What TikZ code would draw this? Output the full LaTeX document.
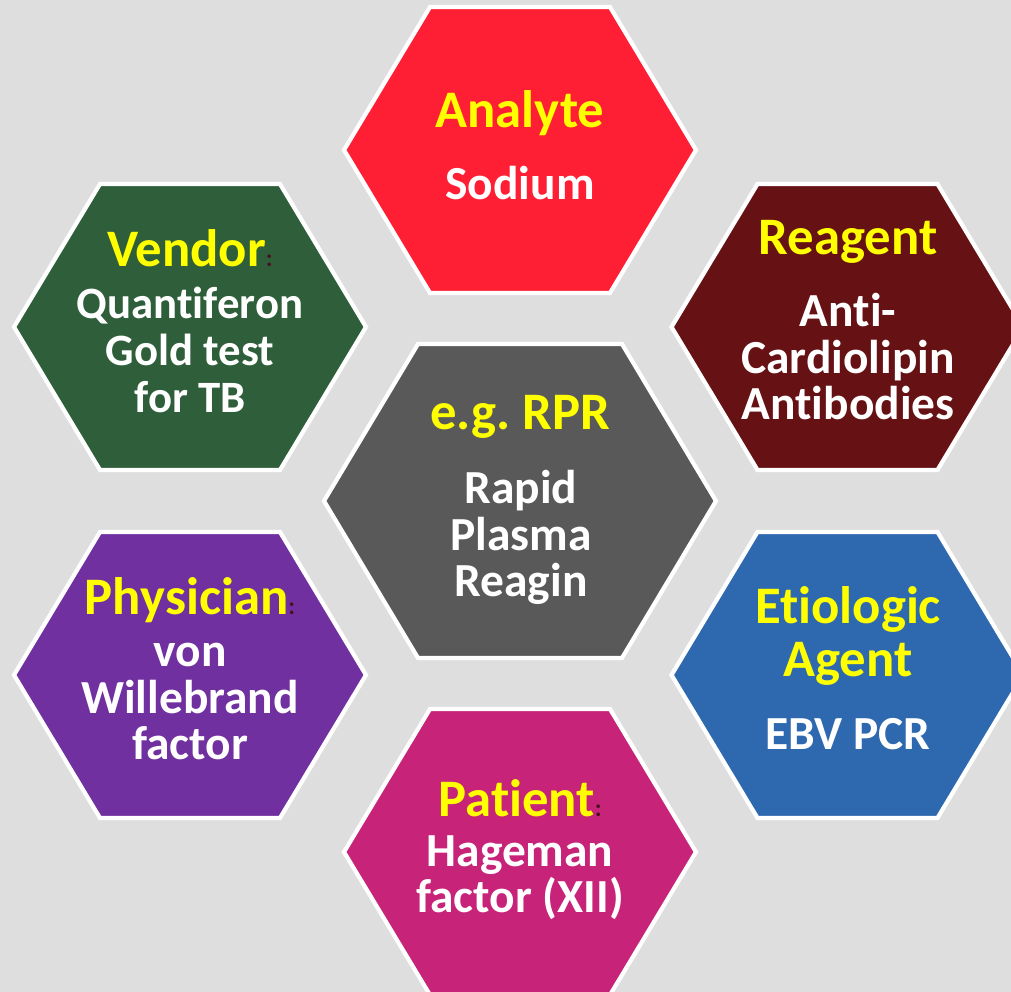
\documentclass[tikz,border=0pt]{standalone}
\usepackage{fontspec}
\setmainfont{Carlito}[Ligatures=NoCommon]
\usetikzlibrary{backgrounds}
\pgfdeclarelayer{edgelayer}
\pgfdeclarelayer{nodelayer}
\pgfsetlayers{edgelayer,nodelayer,main}
\definecolor{bggray}{HTML}{DEDEDE}
\definecolor{hexyellow}{HTML}{FFFF00}
\definecolor{analyte}{HTML}{FF1F35}
\definecolor{vendor}{HTML}{2F5F3A}
\definecolor{reagent}{HTML}{661114}
\definecolor{rpr}{HTML}{595959}
\definecolor{etiologic}{HTML}{2E69B0}
\definecolor{patient}{HTML}{C62379}
\definecolor{physician}{HTML}{7030A0}
\definecolor{coloncol}{HTML}{4A1020}
\tikzstyle{hex}=[draw=white,line width=2.4pt,line join=miter]
\tikzstyle{title}=[text=hexyellow,align=center,inner sep=0pt,anchor=base,font=\fontsize{30}{30.6}\selectfont\bfseries]
\tikzstyle{body}=[text=white,align=center,inner sep=0pt,anchor=base,font=\fontsize{27}{26.7}\selectfont\bfseries]
\newcommand{\sep}{{\color{coloncol}\fontsize{14}{14}\selectfont:}}

\begin{document}
\begin{tikzpicture}
	\useasboundingbox (-10.4,-9.82) rectangle (9.82,10.02);
	\begin{pgfonlayer}{edgelayer}
		\fill [bggray] (-10.4,-9.82) rectangle (9.82,10.02);
		% outer ring, clockwise from the top
		\draw [style=hex, fill=analyte, shift={(0,7.02)}] (-3.52,0) -- (-1.8,2.86) -- (1.8,2.86) -- (3.52,0) -- (1.8,-2.86) -- (-1.8,-2.86) -- cycle;
		\draw [style=hex, fill=reagent, shift={(6.55,3.48)}] (-3.52,0) -- (-1.8,2.86) -- (1.8,2.86) -- (3.52,0) -- (1.8,-2.86) -- (-1.8,-2.86) -- cycle;
		\draw [style=hex, fill=etiologic, shift={(6.55,-3.48)}] (-3.52,0) -- (-1.8,2.86) -- (1.8,2.86) -- (3.52,0) -- (1.8,-2.86) -- (-1.8,-2.86) -- cycle;
		\draw [style=hex, fill=patient, shift={(0,-7.02)}] (-3.52,0) -- (-1.8,2.86) -- (1.8,2.86) -- (3.52,0) -- (1.8,-2.86) -- (-1.8,-2.86) -- cycle;
		\draw [style=hex, fill=physician, shift={(-6.6,-3.48)}] (-3.52,0) -- (-1.8,2.86) -- (1.8,2.86) -- (3.52,0) -- (1.8,-2.86) -- (-1.8,-2.86) -- cycle;
		\draw [style=hex, fill=vendor, shift={(-6.6,3.48)}] (-3.52,0) -- (-1.8,2.86) -- (1.8,2.86) -- (3.52,0) -- (1.8,-2.86) -- (-1.8,-2.86) -- cycle;
		% middle one is a bit bigger
		\draw [style=hex, fill=rpr] (-3.92,0) -- (-2.04,3.14) -- (2.04,3.14) -- (3.92,0) -- (2.04,-3.14) -- (-2.04,-3.14) -- cycle;
	\end{pgfonlayer}
	\begin{pgfonlayer}{nodelayer}
		% base anchor sits on the last line
		\node [style=title] (0) at (0, 7.46) {Analyte};
		\node [style=body] (1) at (0, 6.02) {Sodium};
		\node [style=title] (2) at (6.56, 4.92) {Reagent};
		\node [style=body] (3) at (6.56, 1.62) {Anti-\\Cardiolipin\\Antibodies};
		\node [style=title] (4) at (6.56, -3.52) {Etiologic\\Agent};
		\node [style=body] (5) at (6.56, -4.98) {EBV PCR};
		\node [style=title] (6) at (0, -6.32) {Patient\sep};
		\node [style=body] (7) at (0, -8.24) {Hageman\\factor (XII)};
		\node [style=title] (8) at (-6.6, -2.28) {Physician\sep};
		\node [style=body] (9) at (-6.6, -5.18) {von\\Willebrand\\factor};
		\node [style=title] (10) at (-6.6, 4.68) {Vendor\sep};
		\node [style=body, font=\fontsize{25.5}{27}\selectfont\bfseries] (11) at (-6.6, 1.76) {Quantiferon\\Gold test\\for TB};
		\node [style=title] (12) at (0, 1.42) {e.g.\ RPR};
		\node [style=body] (13) at (0.02, -1.92) {Rapid\\Plasma\\Reagin};
	\end{pgfonlayer}
\end{tikzpicture}
\end{document}
